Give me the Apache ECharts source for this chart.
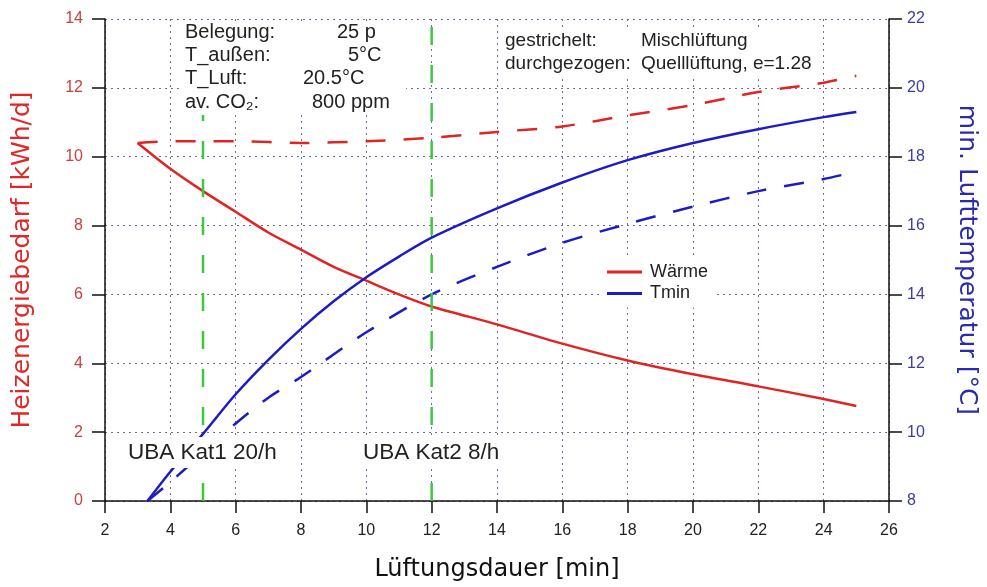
<!DOCTYPE html>
<html>
<head>
<meta charset="utf-8">
<script src="https://cdn.jsdelivr.net/npm/echarts@6/dist/echarts.min.js"></script>
<style>
html,body{margin:0;padding:0;background:#fff;}
#chart{width:987px;height:587px;}
</style>
</head>
<body>
<div id="chart"></div>
<script>
// Quelllüftung (solid)
const quellWaermeDauer = [3, 4, 5, 6, 7, 8, 9, 10, 11, 12, 14, 16, 18, 20, 22, 24, 25];
const quellWaerme      = [10.4, 9.65, 9.0, 8.4, 7.8, 7.3, 6.8, 6.4, 6.0, 5.65, 5.13, 4.57, 4.08, 3.68, 3.33, 2.96, 2.76];
const quellTminDauer   = [3.3, 4, 5, 6, 7, 8, 9, 10, 11, 12, 14, 16, 18, 20, 22, 24, 25];
const quellTmin        = [8, 8.85, 9.95, 11.1, 12.1, 13.0, 13.8, 14.5, 15.1, 15.65, 16.5, 17.25, 17.9, 18.4, 18.8, 19.15, 19.3];
// Mischlüftung (dashed)
const mischWaermeDauer = [3, 4, 5, 6, 8, 10, 12, 14, 16, 18, 20, 22, 24, 25];
const mischWaerme      = [10.4, 10.45, 10.45, 10.45, 10.4, 10.45, 10.55, 10.72, 10.88, 11.2, 11.5, 11.88, 12.15, 12.35];
const mischTminDauer   = [3.3, 4, 5, 6, 7, 8, 10, 12, 14, 16, 18, 20, 22, 24, 24.7];
const mischTmin        = [8, 8.55, 9.4, 10.25, 11.0, 11.6, 12.9, 14.0, 14.8, 15.5, 16.05, 16.55, 17.0, 17.35, 17.5];
// UBA markers
const ubaDauer  = [5, 12];
const ubaLabels = ['UBA Kat1 20/h', 'UBA Kat2 8/h'];
const yRangeLeft = [0, 14];
// Annotation texts
const infoLabels = ['Belegung:', 'T_außen:', 'T_Luft:', 'av. CO₂:'];
const infoValues = ['25 p', '5°C', '20.5°C', '800 ppm'];
const noteLabels = ['gestrichelt:', 'durchgezogen:'];
const noteValues = ['Mischlüftung', 'Quelllüftung, e=1.28'];

const pair = (xs, ys) => xs.map((x, i) => [x, ys[i]]);

const RED = '#e02424', BLUE = '#1c1cc4', GREEN = '#3cc83c';
const FONT = 'Liberation Sans, Arial, sans-serif';
const NAMEFONT = 'DejaVu Sans, sans-serif';

const chart = echarts.init(document.getElementById('chart'), null, {renderer: 'canvas'});

const graphics = [];
// white boxes behind the annotation blocks
graphics.push({type: 'rect', z: 10, shape: {x: 180, y: 21, width: 226, height: 94}, style: {fill: '#fff'}});
graphics.push({type: 'rect', z: 10, shape: {x: 501, y: 29, width: 314, height: 49}, style: {fill: '#fff'}});

const infoY = [33, 56, 79.5, 103];
const infoValX = [337, 348, 303, 312];
infoLabels.forEach((t, i) => {
  graphics.push({type: 'text', z: 11, left: 185, top: infoY[i] - 11, style: {text: t, font: '20px ' + FONT, fill: '#222'}});
  graphics.push({type: 'text', z: 11, left: infoValX[i], top: infoY[i] - 11, style: {text: infoValues[i], font: '20px ' + FONT, fill: '#222'}});
});
const noteY = [42, 65];
noteLabels.forEach((t, i) => {
  graphics.push({type: 'text', z: 11, left: 505, top: noteY[i] - 10.5, style: {text: t, font: '19px ' + FONT, fill: '#222'}});
  graphics.push({type: 'text', z: 11, left: 641, top: noteY[i] - 10.5, style: {text: noteValues[i], font: '19px ' + FONT, fill: '#222'}});
});

const series = [
  {name: 'Wärme', type: 'line', yAxisIndex: 0, data: pair(quellWaermeDauer, quellWaerme),
   smooth: 0.3, symbol: 'none', lineStyle: {color: RED, width: 2.5}, itemStyle: {color: RED}},
  {name: 'Wärme Mischlüftung', type: 'line', yAxisIndex: 0, data: pair(mischWaermeDauer, mischWaerme),
   smooth: 0.3, symbol: 'none', lineStyle: {color: RED, width: 2.5, type: [20, 18]}, itemStyle: {color: RED}},
  {name: 'Tmin', type: 'line', yAxisIndex: 1, data: pair(quellTminDauer, quellTmin),
   smooth: 0.3, symbol: 'none', lineStyle: {color: BLUE, width: 2.5}, itemStyle: {color: BLUE}},
  {name: 'Tmin Mischlüftung', type: 'line', yAxisIndex: 1, data: pair(mischTminDauer, mischTmin),
   smooth: 0.3, symbol: 'none', lineStyle: {color: BLUE, width: 2.5, type: [20, 18]}, itemStyle: {color: BLUE}}
];
ubaDauer.forEach((x, i) => {
  series.push({
    name: ubaLabels[i], type: 'line', yAxisIndex: 0,
    data: yRangeLeft.map(y => [x, y]),
    symbol: 'none', lineStyle: {color: GREEN, width: 2.5, type: [18, 20]},
    silent: true
  });
});

const ubaLabelLeft = [126, 361];
ubaLabels.forEach((t, i) => {
  graphics.push({type: 'text', z: 11, left: ubaLabelLeft[i], top: 437,
    style: {text: t, font: '22.5px ' + FONT, fill: '#222', backgroundColor: '#fff', padding: [4, 2, 4, 2]}});
});

const option = {
  animation: false,
  backgroundColor: '#fff',
  grid: {left: 105, right: 92, top: 19, bottom: 85, containLabel: false},
  legend: {
    data: ['Wärme', 'Tmin'], orient: 'vertical', left: 600, top: 258,
    backgroundColor: '#fff', padding: [5, 6, 5, 7], z: 10,
    icon: 'rect', itemWidth: 35, itemHeight: 3, itemGap: 3.5,
    textStyle: {fontFamily: FONT, fontSize: 18, color: '#222', padding: [0, 0, 0, 3]}
  },
  xAxis: {
    type: 'value', min: 2, max: 26, interval: 2,
    name: 'Lüftungsdauer [min]', nameLocation: 'middle', nameGap: 57,
    nameTextStyle: {fontFamily: NAMEFONT, fontSize: 24, color: '#111'},
    axisLine: {show: true, onZero: false, lineStyle: {color: '#111', width: 1.5}},
    axisTick: {show: true, inside: false, length: 12, lineStyle: {color: '#111', width: 1.5}},
    axisLabel: {margin: 22, fontFamily: FONT, fontSize: 16, color: '#222'},
    splitLine: {show: true, lineStyle: {color: '#6e6ea0', width: 1, type: [2, 4]}}
  },
  yAxis: [
    {
      type: 'value', min: 0, max: 14, interval: 2, position: 'left',
      name: 'Heizenergiebedarf [kWh/d]', nameLocation: 'middle', nameRotate: 90, nameGap: 70,
      nameTextStyle: {fontFamily: NAMEFONT, fontSize: 25, color: '#e02828'},
      axisLine: {show: true, onZero: false, lineStyle: {color: '#111', width: 1.5}},
      axisTick: {show: true, inside: false, length: 13, lineStyle: {color: '#111', width: 1.5}},
      axisLabel: {margin: 22, fontFamily: FONT, fontSize: 16, color: '#c84040'},
      splitLine: {show: true, lineStyle: {color: '#6e6ea0', width: 1, type: [2, 4]}}
    },
    {
      type: 'value', min: 8, max: 22, interval: 2, position: 'right',
      name: 'min. Lufttemperatur [°C]', nameLocation: 'middle', nameRotate: -90, nameGap: 65,
      nameTextStyle: {fontFamily: NAMEFONT, fontSize: 25, color: '#2a2ab0'},
      axisLine: {show: true, onZero: false, lineStyle: {color: '#111', width: 1.5}},
      axisTick: {show: true, inside: false, length: 13, lineStyle: {color: '#111', width: 1.5}},
      axisLabel: {margin: 18, fontFamily: FONT, fontSize: 16, color: '#3c3ca0'},
      splitLine: {show: false}
    }
  ],
  graphic: graphics,
  series: series
};
chart.setOption(option);
</script>
</body>
</html>
